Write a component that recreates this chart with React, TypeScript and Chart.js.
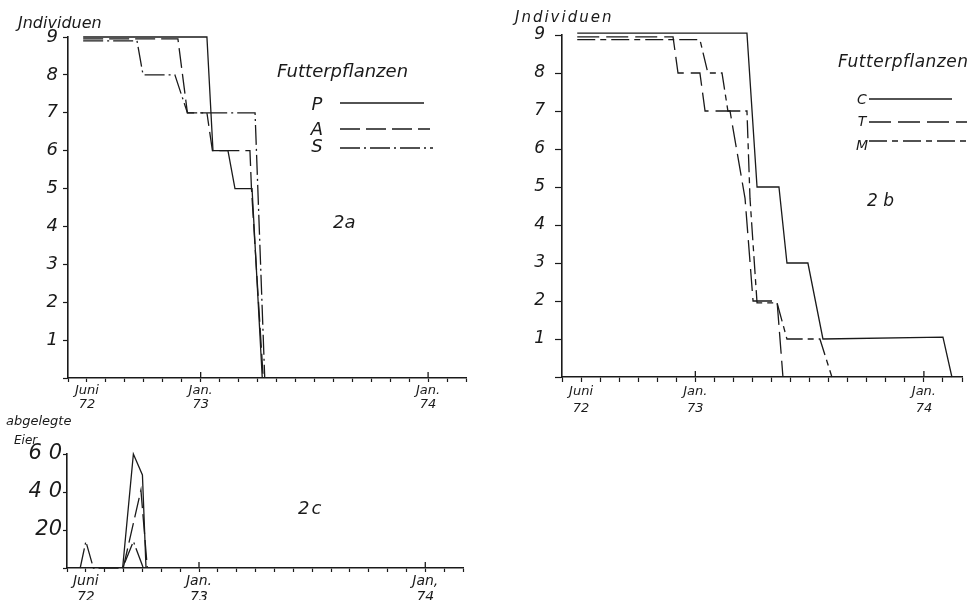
import { useEffect, useRef } from "react";
import { Chart, registerables } from "chart.js";

Chart.register(...registerables);

const FONT = "'DejaVu Sans', sans-serif";
const INK = "#1a1a1a";

// x values are months counted from June 1972 (= 0)
const monthTickPos = [0, 6, 18];
const monthTickLabels = [["Juni", "72"], ["Jan.", "73"], ["Jan.", "74"]];
const eggMonthTickLabels = [["Juni", "72"], ["Jan.", "73"], ["Jan,", "74"]];
const eggTickValues = [20, 40, 60];
const eggTickLabels = ["20", "4 0", "6 0"];

// ---- 2a : individuals, food plants P, A, S
const pMonths = [-0.2, 6.33, 6.65, 7.44, 7.81, 8.71, 9.25];
const pCount = [9, 9, 6, 6, 5, 5, 0];
const aMonths = [-0.2, 4.8, 5.3, 6.33, 6.62, 8.6, 8.68, 9.3];
const aCount = [8.95, 8.95, 7, 7, 6, 6, 5, 0];
const sMonths = [-0.2, 2.64, 2.96, 4.64, 5.3, 8.87, 9.38];
const sCount = [8.9, 8.9, 8, 8, 7, 7, 0];

// ---- 2b : individuals, food plants C, T, M
const cMonths = [-0.2, 8.71, 9.24, 10.39, 10.81, 11.91, 12.7, 19.0, 19.47];
const cCount = [9.05, 9.05, 5, 5, 3, 3, 1, 1.05, 0];
const tMonths = [-0.2, 4.83, 5.09, 6.24, 6.51, 7.82, 8.61, 9.03, 10.29, 10.6];
const tCount = [8.95, 8.95, 8, 8, 7, 7, 4.7, 2, 2, 0];
const mMonths = [-0.2, 6.24, 6.66, 7.4, 7.71, 8.71, 8.87, 9.24, 10.29, 10.81, 12.54, 13.17];
const mCount = [8.88, 8.88, 8, 8, 7, 7, 4.7, 1.95, 1.95, 1, 1, 0];

// ---- 2c : eggs laid (P, A, S)
const pEggMonths = [1.95, 2.52, 3.0, 3.19];
const pEggs = [0, 60, 49, 0];
const aEggMonths = [1.98, 2.92, 3.26];
const aEggs = [0, 41, 0];
const sEggMonths = [-0.3, 0, 0.4, 1.95, 2.52, 3.05];
const sEggs = [0, 14, 0, 0, 14, 0];

const DASH_SOLID: number[] = [];
const DASH_A = [20, 6];
const DASH_S = [20, 4, 2, 4];
const DASH_T = [22, 7];
const DASH_M = [18, 5, 6, 5];

const toPts = (xs: number[], ys: number[]) => xs.map((x, i) => ({ x, y: ys[i] }));

const ds = (label: string, xs: number[], ys: number[], dash: number[]) => ({
  label,
  data: toPts(xs, ys),
  borderColor: INK,
  borderWidth: 1.3,
  borderDash: dash,
  pointRadius: 0,
  tension: 0,
  fill: false,
  clip: false as any,
});

const figText = {
  id: "figText",
  afterDraw(chart: any, _args: any, opts: any) {
    const ctx = chart.ctx as CanvasRenderingContext2D;
    ctx.save();
    ctx.fillStyle = INK;
    ctx.textBaseline = "middle";
    for (const t of opts.texts || []) {
      ctx.font = `italic ${t.size}px ${FONT}`;
      (ctx as any).letterSpacing = (t.spacing || 0) + "px";
      ctx.textAlign = t.align || "left";
      ctx.fillText(t.text, t.x, t.y);
    }
    (ctx as any).letterSpacing = "0px";
    const lg = opts.legend;
    if (lg) {
      chart.data.datasets.forEach((d: any, i: number) => {
        ctx.font = `italic ${lg.size}px ${FONT}`;
        ctx.textAlign = "center";
        ctx.fillText(d.label, lg.textX, lg.textYs[i]);
        ctx.beginPath();
        ctx.setLineDash(d.borderDash || []);
        ctx.lineWidth = d.borderWidth;
        ctx.strokeStyle = d.borderColor;
        ctx.moveTo(lg.x1, lg.ys[i]);
        ctx.lineTo(lg.x2s[i], lg.ys[i]);
        ctx.stroke();
      });
      ctx.setLineDash([]);
    }
    const xs = chart.scales.x;
    const bottom = chart.chartArea.bottom;
    ctx.strokeStyle = INK;
    ctx.lineWidth = 1.3;
    for (const v of opts.majors || []) {
      const px = xs.getPixelForValue(v);
      ctx.beginPath();
      ctx.moveTo(px, bottom - 6);
      ctx.lineTo(px, bottom);
      ctx.stroke();
    }
    ctx.restore();
  },
};

type Cfg = {
  datasets: any[];
  padding: { left: number; right: number; top: number; bottom: number };
  xHeight: number;
  yMax: number;
  yStep: number;
  yLabel: (v: number) => string;
  yFont: number;
  yTick: number;
  yPad: number;
  xLabels: string[][];
  xFont: number;
  xLineHeight: number;
  xTick: number;
  texts: any[];
  legend?: any;
};

function makeConfig(c: Cfg): any {
  return {
    type: "line",
    data: { datasets: c.datasets },
    plugins: [figText],
    options: {
      responsive: false,
      animation: false,
      events: [],
      layout: { padding: c.padding },
      plugins: {
        legend: { display: false },
        tooltip: { enabled: false },
        figText: { texts: c.texts, legend: c.legend, majors: [6, 18] },
      },
      scales: {
        x: {
          type: "linear",
          min: -1,
          max: 20,
          afterFit: (s: any) => {
            s.height = c.xHeight;
          },
          border: { display: true, color: INK, width: 1.6 },
          grid: { drawOnChartArea: false, drawTicks: true, tickLength: c.xTick, color: INK, tickWidth: 1.2 },
          ticks: {
            stepSize: 1,
            autoSkip: false,
            maxRotation: 0,
            minRotation: 0,
            padding: 1,
            color: INK,
            font: { family: FONT, size: c.xFont, style: "italic", lineHeight: c.xLineHeight },
            callback: (v: number) => {
              const i = monthTickPos.indexOf(v);
              return i >= 0 ? c.xLabels[i] : "";
            },
          },
        },
        y: {
          type: "linear",
          min: 0,
          max: c.yMax,
          afterFit: (s: any) => {
            s.width = 40;
          },
          border: { display: true, color: INK, width: 1.6 },
          grid: { drawOnChartArea: false, drawTicks: true, tickLength: c.yTick, color: INK, tickWidth: 1.2 },
          ticks: {
            stepSize: c.yStep,
            padding: c.yPad,
            color: INK,
            font: { family: FONT, size: c.yFont, style: "italic" },
            callback: (v: number) => c.yLabel(v),
          },
        },
      },
    },
  };
}

const indLabel = (v: number) => (v === 0 ? "" : String(v));
const eggLabel = (v: number) => {
  const i = eggTickValues.indexOf(v);
  return i >= 0 ? eggTickLabels[i] : "";
};

export default function App() {
  const refA = useRef<HTMLCanvasElement>(null);
  const refB = useRef<HTMLCanvasElement>(null);
  const refC = useRef<HTMLCanvasElement>(null);

  useEffect(() => {
    const charts: Chart[] = [];
    charts.push(
      new Chart(
        refA.current!,
        makeConfig({
          datasets: [
            ds("P", pMonths, pCount, DASH_SOLID),
            ds("A", aMonths, aCount, DASH_A),
            ds("S", sMonths, sCount, DASH_S),
          ],
          padding: { left: 28, right: 504, top: 37, bottom: 177 },
          xHeight: 45,
          yMax: 9,
          yStep: 1,
          yLabel: indLabel,
          yFont: 18,
          yTick: 5,
          yPad: 5,
          xLabels: monthTickLabels,
          xFont: 13,
          xLineHeight: 1.1,
          xTick: 4,
          texts: [
            { text: "Jndividuen", x: 18, y: 24, size: 16 },
            { text: "Futterpflanzen", x: 277, y: 72, size: 18 },
            { text: "2a", x: 333, y: 223, size: 18 },
          ],
          legend: {
            size: 18,
            textX: 317,
            textYs: [105, 130, 147],
            ys: [103, 129, 148],
            x1: 340,
            x2s: [424, 430, 433],
          },
        })
      )
    );
    charts.push(
      new Chart(
        refB.current!,
        makeConfig({
          datasets: [
            ds("C", cMonths, cCount, DASH_SOLID),
            ds("T", tMonths, tCount, DASH_T),
            ds("M", mMonths, mCount, DASH_M),
          ],
          padding: { left: 522, right: 8, top: 35, bottom: 178 },
          xHeight: 45,
          yMax: 9,
          yStep: 1,
          yLabel: indLabel,
          yFont: 17,
          yTick: 7,
          yPad: 10,
          xLabels: monthTickLabels,
          xFont: 13,
          xLineHeight: 1.3,
          xTick: 5,
          texts: [
            { text: "Jndividuen", x: 515, y: 18, size: 15, spacing: 2 },
            { text: "Futterpflanzen", x: 838, y: 63, size: 17, spacing: 0.5 },
            { text: "2 b", x: 867, y: 202, size: 17 },
          ],
          legend: {
            size: 14,
            textX: 862,
            textYs: [100, 122, 146],
            ys: [99, 122, 141],
            x1: 869,
            x2s: [952, 967, 967],
          },
        })
      )
    );
    charts.push(
      new Chart(
        refC.current!,
        makeConfig({
          datasets: [
            ds("P", pEggMonths, pEggs, DASH_SOLID),
            ds("A", aEggMonths, aEggs, DASH_A),
            ds("S", sEggMonths, sEggs, DASH_S),
          ],
          padding: { left: 27, right: 507, top: 454, bottom: 0 },
          xHeight: 32,
          yMax: 60,
          yStep: 20,
          yLabel: eggLabel,
          yFont: 21,
          yTick: 4,
          yPad: 1,
          xLabels: eggMonthTickLabels,
          xFont: 14,
          xLineHeight: 1.15,
          xTick: 4,
          texts: [
            { text: "abgelegte", x: 6, y: 422, size: 13 },
            { text: "Eier", x: 14, y: 441, size: 12 },
            { text: "2c", x: 298, y: 509, size: 18, spacing: 2 },
          ],
        })
      )
    );
    return () => charts.forEach((c) => c.destroy());
  }, []);

  const cv: any = { position: "absolute", left: 0, top: 0, width: 970, height: 600 };
  return (
    <div style={{ position: "absolute", left: 0, top: 0, width: 970, height: 600, background: "#fff", overflow: "hidden" }}>
      <canvas ref={refA} width={970} height={600} style={cv} />
      <canvas ref={refB} width={970} height={600} style={cv} />
      <canvas ref={refC} width={970} height={600} style={cv} />
    </div>
  );
}
